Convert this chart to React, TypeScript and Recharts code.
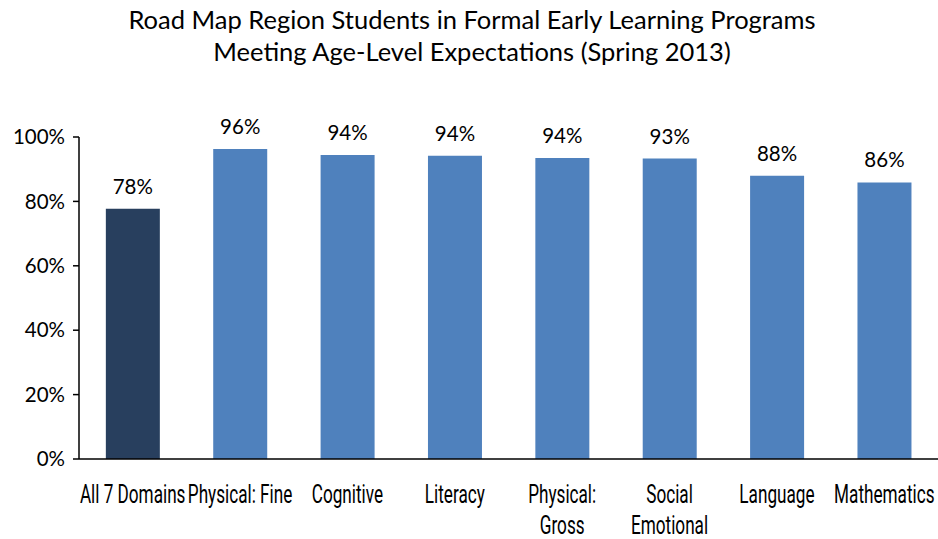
import React from "react";
import { BarChart, Bar, XAxis, YAxis, Cell, LabelList } from "recharts";

const categories = [
  "All 7 Domains",
  "Physical: Fine",
  "Cognitive",
  "Literacy",
  "Physical:\nGross",
  "Social\nEmotional",
  "Language",
  "Mathematics",
];
const values = [77.7, 96.3, 94.4, 94.2, 93.5, 93.3, 88.0, 85.9];
const colors = ["#283F5E", "#4F81BD", "#4F81BD", "#4F81BD", "#4F81BD", "#4F81BD", "#4F81BD", "#4F81BD"];
const yTicks = [0, 20, 40, 60, 80, 100];
const titleLines = [
  "Road Map Region Students in Formal Early Learning Programs",
  "Meeting Age-Level Expectations (Spring 2013)",
];

const data = categories.map((c, i) => ({ name: c, value: values[i] }));

const condensed = "Roboto, 'Noto Sans', sans-serif";
const mainFont = "Lato, 'Noto Sans', sans-serif";

const XTick = (props: any) => {
  const { x, y, payload } = props;
  const lines = String(payload.value).split("\n");
  return (
    <g transform={`translate(${x},${y}) scale(0.66,1)`}>
      {lines.map((l: string, i: number) => (
        <text
          key={i}
          x={0}
          y={36 + i * 31}
          textAnchor="middle"
          fontFamily={condensed}
          fontSize={26}
          fill="#000"
        >
          {l}
        </text>
      ))}
    </g>
  );
};

export default function App() {
  return (
    <div style={{ position: "absolute", left: 0, top: 0, width: 938, height: 539, background: "#fff" }}>
      <div
        style={{
          position: "absolute",
          left: 0,
          top: 3,
          width: 938,
          textAlign: "center",
          fontFamily: mainFont,
          fontSize: 25.5,
          lineHeight: "32px",
          color: "#000",
        }}
      >
        {titleLines.map((t, i) => (
          <div key={i} style={{ paddingLeft: 6 }}>{t}</div>
        ))}
      </div>
      <BarChart
        width={938}
        height={539}
        data={data}
        margin={{ top: 137, right: 0, bottom: 0, left: 0 }}
        barCategoryGap="25%"
      >
        <YAxis
          domain={[0, 100]}
          ticks={yTicks}
          width={79}
          tickFormatter={(v: number) => `${v}%`}
          axisLine={{ stroke: "#000", strokeWidth: 1.5 }}
          tickLine={{ stroke: "#000", strokeWidth: 1.5 }}
          tickSize={6}
          tickMargin={8}
          tick={{ fill: "#000", fontSize: 20.5, fontFamily: mainFont }}
        />
        <XAxis
          dataKey="name"
          height={80}
          interval={0}
          axisLine={{ stroke: "#000", strokeWidth: 1.5 }}
          tickLine={false}
          tick={<XTick />}
        />
        <Bar dataKey="value" isAnimationActive={false}>
          {data.map((d, i) => (
            <Cell key={i} fill={colors[i]} />
          ))}
          <LabelList
            dataKey="value"
            position="top"
            offset={15}
            formatter={(v: number) => `${Math.round(v)}%`}
            style={{ fill: "#000", fontSize: 20.5, fontFamily: mainFont }}
          />
        </Bar>
      </BarChart>
    </div>
  );
}
